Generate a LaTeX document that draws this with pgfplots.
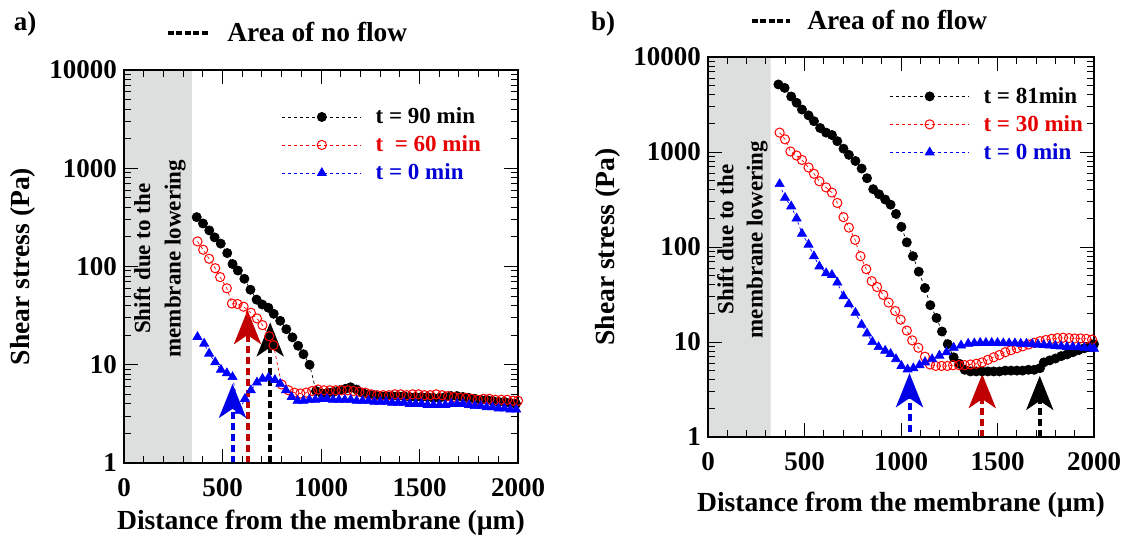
\documentclass[border=0pt]{standalone}
\usepackage{fontspec}
\setmainfont{Liberation Serif}
\usepackage{pgfplots}
\pgfplotsset{compat=1.18}
\usetikzlibrary{arrows.meta}
\definecolor{greyc}{RGB}{221,222,222}
\definecolor{myred}{RGB}{255,0,0}
\definecolor{myblue}{RGB}{0,0,255}
\definecolor{txtred}{RGB}{230,0,0}
\definecolor{txtblue}{RGB}{0,0,215}
\definecolor{arrred}{RGB}{192,0,0}
\definecolor{arrblue}{RGB}{0,0,230}
\tikzset{
 blk/.style={black, dash pattern=on 1.5pt off 1.5pt, line width=0.35pt, mark=*, mark size=2.3pt, mark options={solid}},
 rd/.style={myred, dash pattern=on 1.5pt off 1.5pt, line width=0.35pt, mark=o, mark size=2.3pt, mark options={solid, line width=0.5pt}},
 bl/.style={myblue, dash pattern=on 1.5pt off 1.5pt, line width=0.35pt, mark=triangle*, mark size=2.6pt, mark options={solid}},
 arr/.style={line width=2pt, dash pattern=on 3.3pt off 2.2pt, -{Stealth[length=17pt, width=13.5pt, inset=4.5pt]}},
}
\pgfplotsset{
 every axis/.append style={
  scale only axis, xmin=0, xmax=2000, ymin=1, ymax=10000,
  axis on top, tick pos=both, tick align=inside,
  xtick={0,500,1000,1500,2000}, xticklabels={0,500,1000,1500,2000},
  minor x tick num=4,
  ytick={1,10,100,1000,10000}, yticklabels={1,10,100,1000,10000},
  major tick length=7pt, minor tick length=3.5pt,
  every tick/.style={black, line width=0.5pt},
  axis line style={line width=0.7pt},
  tick label style={font=\fontsize{13.5}{16}\selectfont\bfseries},
  xticklabel style={yshift=-4pt},
  label style={font=\fontsize{13.8}{16}\selectfont\bfseries},
  legend cell align=left,
  legend style={draw=none, fill=none, inner sep=0pt, row sep=2pt,
    font=\fontsize{11.5}{13}\selectfont\bfseries,
    nodes={inner sep=1pt, text height=8.5pt, text depth=1.5pt},
    /tikz/every odd column/.append style={column sep=6pt}},
 },
 legend image code/.code={\draw[#1, mark repeat=2, mark phase=2] plot coordinates {(0pt,0pt) (19.75pt,0pt) (39.5pt,0pt)};},
}
\begin{document}
\begin{tikzpicture}
\useasboundingbox (0,0) rectangle (562pt,-272pt);
% ---------------- panel a ----------------
\begin{axis}[ymode=log, at={(62pt,-231.5pt)}, anchor=south west, width=197pt, height=196.5pt,
  xlabel={Distance from the membrane (µm)}, ylabel={Shear stress (Pa)},
  xlabel style={at={(axis description cs:0.5,-0.153)}, anchor=center},
  ylabel style={at={(axis description cs:-0.256,0.5)}, anchor=center},
  legend style={at={(axis description cs:0.40,0.912)}, anchor=north west}]
\addplot[fill=greyc, draw=none, forget plot] coordinates {(0,1) (0,10000) (345,10000) (345,1)} \closedcycle;
\addplot[blk] coordinates {
(369,318) (401,274) (433,233) (460,198) (491,171) (524,137) (551,106) (578,91) (611,75) (642,58)
(673,46) (702,41) (733,38) (760,33) (793,28) (824,23) (855,19) (884,15.6) (911,12.8) (942,10)
(975,5.4) (1005,5.1) (1035,5.2) (1065,5.3) (1095,5.5) (1125,5.7) (1150,5.9) (1180,5.6) (1210,5.2) (1240,5.0)
(1270,4.9) (1300,4.8) (1330,4.8) (1360,4.8) (1390,4.8) (1420,4.8) (1450,4.7) (1480,4.7) (1510,4.7) (1540,4.7)
(1570,4.6) (1600,4.6) (1630,4.7) (1660,4.8) (1690,4.8) (1720,4.7) (1750,4.6) (1780,4.5) (1810,4.4) (1840,4.4)
(1870,4.3) (1900,4.2) (1930,4.2) (1960,4.1) (1990,4.0)};
\addlegendentry{\textcolor{black}{t = 90 min}}
\addplot[rd] coordinates {
(373,180) (402,148) (432,120) (463,96) (488,78) (522,60) (548,42) (576,41.5) (607,39) (644,33.8)
(675,29.6) (703,25.3) (737,19.5) (759,15.8) (800,6.3) (835,5.5) (865,5.2) (895,5.1) (925,5.2) (955,5.4)
(985,5.6) (1015,5.5) (1045,5.5) (1075,5.5) (1105,5.5) (1135,5.5) (1165,5.4) (1195,5.3) (1225,5.2) (1255,5.0)
(1285,4.9) (1315,4.9) (1345,4.9) (1375,5.0) (1405,5.0) (1435,4.9) (1465,5.0) (1495,5.0) (1525,4.9) (1555,4.9)
(1585,5.0) (1615,4.9) (1645,4.8) (1675,4.7) (1705,4.6) (1735,4.6) (1765,4.5) (1795,4.4) (1825,4.5) (1855,4.5)
(1885,4.4) (1915,4.4) (1945,4.4) (1975,4.3) (2000,4.3)};
\addlegendentry{\textcolor{txtred}{t\ \ = 60 min}}
\addplot[bl] coordinates {
(373,19.2) (407,16.4) (432,13) (463,10.6) (492,8.9) (522,8.2) (551,7.5) (585,3.4) (614,4.5) (644,5.5)
(675,6.6) (703,7.2) (734,7.4) (766,7.0) (793,6.4) (822,5.5) (851,4.7) (881,4.3) (911,4.3) (941,4.4)
(971,4.4) (1001,4.5) (1031,4.5) (1061,4.4) (1091,4.4) (1121,4.4) (1151,4.4) (1181,4.3) (1211,4.3) (1241,4.3)
(1271,4.2) (1301,4.2) (1331,4.2) (1361,4.1) (1391,4.1) (1421,4.1) (1451,4.0) (1481,4.0) (1511,4.0) (1541,3.9)
(1571,3.9) (1601,3.9) (1631,3.9) (1661,4.0) (1691,4.0) (1721,4.0) (1751,3.9) (1781,3.8) (1811,3.8) (1841,3.7)
(1871,3.7) (1901,3.6) (1931,3.6) (1961,3.5) (1991,3.5)};
\addlegendentry{\textcolor{txtblue}{t = 0 min}}
\draw[arr, arrblue] (axis cs:551,1) -- (axis cs:551,6.4);
\draw[arr, arrred] (axis cs:627,1) -- (axis cs:627,36);
\draw[arr, black] (axis cs:742,1) -- (axis cs:742,27);
\node[rotate=90, align=center, font=\fontsize{11.5}{15.3}\selectfont\bfseries] at (axis cs:182,120) {Shift due to the\\membrane lowering};
\end{axis}
% ---------------- panel b ----------------
\begin{axis}[ymode=log, at={(354pt,-218.5pt)}, anchor=south west, width=193pt, height=190pt,
  xlabel={Distance from the membrane (µm)}, ylabel={Shear stress (Pa)},
  xlabel style={at={(axis description cs:0.5,-0.179)}, anchor=center},
  ylabel style={at={(axis description cs:-0.259,0.5)}, anchor=center},
  legend style={at={(axis description cs:0.47,0.929)}, anchor=north west}]
\addplot[fill=greyc, draw=none, forget plot] coordinates {(0,1) (0,10000) (324,10000) (324,1)} \closedcycle;
\addplot[blk] coordinates {
(365,5140) (397,4730) (431,3840) (459,3300) (487,2800) (521,2430) (549,2110) (581,1790) (612,1600) (642,1510)
(670,1300) (702,1085) (730,933) (764,804) (796,670) (824,530) (856,406) (886,359) (918,316) (946,279)
(974,223) (1002,163) (1030,112) (1062,80) (1092,55) (1124,37) (1152,24.4) (1184,17.9) (1212,12.9) (1242,9.5)
(1273,6.9) (1302,5.9) (1330,5.1) (1360,4.9) (1390,4.9) (1420,4.9) (1450,4.9) (1480,4.9) (1510,4.9) (1540,5.0)
(1570,5.0) (1600,5.0) (1630,5.0) (1660,5.1) (1690,5.1) (1720,5.3) (1740,6.1) (1770,6.4) (1800,6.7) (1830,7.1)
(1860,7.4) (1890,7.8) (1920,8.2) (1950,8.6) (1980,9.0) (2000,9.5)};
\addlegendentry{\textcolor{black}{t = 81min}}
\addplot[rd] coordinates {
(371,1600) (399,1360) (427,1014) (459,918) (487,824) (521,687) (549,590) (577,492) (612,424) (642,374)
(670,291) (702,206) (730,160) (762,119) (790,80) (820,58.5) (848,43.7) (876,37.9) (908,31.3) (936,26)
(970,21.2) (998,17.2) (1030,13.2) (1058,10.4) (1090,8.7) (1124,7.0) (1150,5.8) (1180,5.6) (1210,5.6) (1240,5.6)
(1270,5.7) (1300,5.7) (1330,5.7) (1360,5.8) (1390,5.9) (1420,6.1) (1450,6.5) (1480,6.9) (1510,7.3) (1540,7.8)
(1570,8.2) (1600,8.6) (1630,9.0) (1660,9.4) (1690,9.8) (1720,10.2) (1750,10.5) (1780,10.8) (1810,11.0) (1840,11.1)
(1870,11.0) (1900,10.9) (1930,10.9) (1960,10.8) (1990,10.6)};
\addlegendentry{\textcolor{txtred}{t = 30 min}}
\addplot[bl] coordinates {
(371,460) (399,330) (431,268) (459,200) (487,138) (521,106) (549,80) (577,62.5) (612,53) (642,50.8)
(670,42.3) (702,30.3) (730,25) (764,20.3) (796,15.2) (824,12.3) (852,10) (884,8.85) (918,8.1) (946,7.5)
(974,6.6) (1002,5.6) (1034,5.15) (1064,5.3) (1096,5.7) (1124,6.1) (1161,6.6) (1199,7.2) (1236,7.8) (1273,8.7)
(1311,9.2) (1348,9.6) (1380,9.7) (1410,9.8) (1440,9.8) (1470,9.8) (1500,9.8) (1530,9.7) (1560,9.7) (1590,9.7)
(1620,9.6) (1650,9.6) (1680,9.5) (1710,9.4) (1740,9.3) (1770,9.2) (1800,9.1) (1830,9.0) (1860,8.9) (1890,8.9)
(1920,8.8) (1950,8.7) (1980,8.6) (2000,8.5)};
\addlegendentry{\textcolor{txtblue}{t = 0 min}}
\draw[arr, arrblue] (axis cs:1044,1.13) -- (axis cs:1044,4.7);
\draw[arr, arrred] (axis cs:1421,1) -- (axis cs:1421,4.6);
\draw[arr, black] (axis cs:1719,1) -- (axis cs:1719,4.4);
\node[rotate=90, align=center, font=\fontsize{11.5}{14.6}\selectfont\bfseries] at (axis cs:178,120) {Shift due to the\\membrane lowering};
\end{axis}
% ---------------- headers ----------------
\node[font=\fontsize{13.5}{16}\selectfont\bfseries] at (12.5pt,-12pt) {a)};
\node[font=\fontsize{13.5}{16}\selectfont\bfseries] at (301.5pt,-12pt) {b)};
\draw[black, line width=1.7pt, dash pattern=on 3pt off 1.2pt] (84pt,-16.5pt) -- (104pt,-16.5pt);
\node[anchor=west, inner sep=0pt, font=\fontsize{13.7}{16}\selectfont\bfseries] at (113.5pt,-16pt) {Area of no flow};
\draw[black, line width=1.7pt, dash pattern=on 3pt off 1.2pt] (376pt,-10.5pt) -- (395pt,-10.5pt);
\node[anchor=west, inner sep=0pt, font=\fontsize{13.7}{16}\selectfont\bfseries] at (403.5pt,-10pt) {Area of no flow};
\end{tikzpicture}
\end{document}
